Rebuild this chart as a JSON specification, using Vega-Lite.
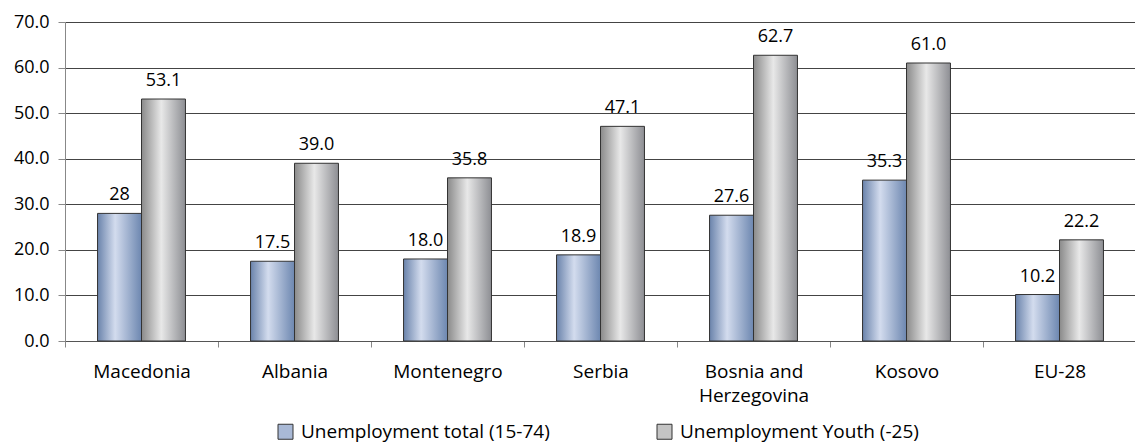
{
  "$schema": "https://vega.github.io/schema/vega-lite/v6.json",
  "width": 1071,
  "height": 319,
  "autosize": {"type": "none"},
  "padding": {"left": 65, "top": 22, "right": 0, "bottom": 105},
  "background": "white",
  "config": {"view": {"stroke": null}, "font": "Open Sans"},
  "data": {
    "values": [
      {"country": "Macedonia", "series": "Unemployment total (15-74)", "value": 28.0, "label": "28"},
      {"country": "Macedonia", "series": "Unemployment Youth (-25)", "value": 53.1, "label": "53.1"},
      {"country": "Albania", "series": "Unemployment total (15-74)", "value": 17.5, "label": "17.5"},
      {"country": "Albania", "series": "Unemployment Youth (-25)", "value": 39.0, "label": "39.0"},
      {"country": "Montenegro", "series": "Unemployment total (15-74)", "value": 18.0, "label": "18.0"},
      {"country": "Montenegro", "series": "Unemployment Youth (-25)", "value": 35.8, "label": "35.8"},
      {"country": "Serbia", "series": "Unemployment total (15-74)", "value": 18.9, "label": "18.9"},
      {"country": "Serbia", "series": "Unemployment Youth (-25)", "value": 47.1, "label": "47.1"},
      {"country": "Bosnia and Herzegovina", "series": "Unemployment total (15-74)", "value": 27.6, "label": "27.6"},
      {"country": "Bosnia and Herzegovina", "series": "Unemployment Youth (-25)", "value": 62.7, "label": "62.7"},
      {"country": "Kosovo", "series": "Unemployment total (15-74)", "value": 35.3, "label": "35.3"},
      {"country": "Kosovo", "series": "Unemployment Youth (-25)", "value": 61.0, "label": "61.0"},
      {"country": "EU-28", "series": "Unemployment total (15-74)", "value": 10.2, "label": "10.2"},
      {"country": "EU-28", "series": "Unemployment Youth (-25)", "value": 22.2, "label": "22.2"}
    ]
  },
  "encoding": {
    "x": {
      "field": "country",
      "type": "nominal",
      "sort": null,
      "scale": {"paddingInner": 0, "paddingOuter": 0},
      "axis": {
        "title": null,
        "labelAngle": 0,
        "labelFont": "Open Sans",
        "labelFontSize": 19,
        "labelColor": "#000",
        "labelPadding": 15,
        "labelLineHeight": 24,
        "labelExpr": "datum.label == 'Bosnia and Herzegovina' ? ['Bosnia and', 'Herzegovina'] : datum.label",
        "tickSize": 6,
        "tickColor": "#888",
        "tickBand": "extent",
        "domainColor": "#555",
        "grid": false
      }
    },
    "xOffset": {
      "field": "series",
      "type": "nominal",
      "sort": null,
      "scale": {"domain": ["Unemployment total (15-74)", "Unemployment Youth (-25)"], "paddingOuter": 0.74, "paddingInner": 0}
    },
    "y": {
      "field": "value",
      "type": "quantitative",
      "scale": {"domain": [0, 70]},
      "axis": {
        "title": null,
        "values": [0, 10, 20, 30, 40, 50, 60, 70],
        "format": ".1f",
        "labelFont": "Open Sans",
        "labelFontSize": 18,
        "labelColor": "#000",
        "labelPadding": 9,
        "tickSize": 7,
        "tickColor": "#888",
        "domainColor": "#888",
        "gridColor": "#444",
        "grid": true
      }
    }
  },
  "layer": [
    {
      "mark": {"type": "bar", "opacity": 0},
      "encoding": {
        "color": {
          "field": "series",
          "type": "nominal",
          "sort": null,
          "scale": {
            "domain": ["Unemployment total (15-74)", "Unemployment Youth (-25)"],
            "range": ["#a9b9d6", "#c4c4c4"]
          },
          "legend": {
            "title": null,
            "orient": "none",
            "legendX": 211,
            "legendY": 400,
            "direction": "horizontal",
            "labelFont": "Open Sans",
            "labelFontSize": 19,
            "labelColor": "#000",
            "labelLimit": 0,
            "symbolType": "square",
            "symbolSize": 225,
            "symbolStrokeColor": "#333",
            "symbolStrokeWidth": 1,
            "symbolOpacity": 1,
            "columnPadding": 105,
            "labelOffset": 6,
            "encode": {
              "symbols": {
                "update": {
                  "opacity": {"value": 1},
                  "stroke": {"value": "#333"},
                  "strokeWidth": {"value": 1},
                  "fill": {"value": {"expr": "datum.value === 'Unemployment total (15-74)' ? {gradient: 'linear', x1: 0, y1: 0, x2: 1, y2: 0, stops: [{offset: 0, color: '#6a83ab'}, {offset: 0.4, color: '#d3dcee'}, {offset: 1, color: '#6d87b0'}]} : {gradient: 'linear', x1: 0, y1: 0, x2: 1, y2: 0, stops: [{offset: 0, color: '#8a8a8a'}, {offset: 0.45, color: '#e8e8e8'}, {offset: 1, color: '#8d8e93'}]}"}}
                }
              }
            }
          }
        }
      }
    },
    {
      "transform": [{"filter": "datum.series === 'Unemployment total (15-74)'"}],
      "mark": {
        "type": "bar",
        "stroke": "#333",
        "strokeWidth": 1,
        "fill": {"gradient": "linear", "x1": 0, "y1": 0, "x2": 1, "y2": 0, "stops": [{"offset": 0, "color": "#6a83ab"}, {"offset": 0.4, "color": "#d3dcee"}, {"offset": 1, "color": "#6d87b0"}]}
      }
    },
    {
      "transform": [{"filter": "datum.series === 'Unemployment Youth (-25)'"}],
      "mark": {
        "type": "bar",
        "stroke": "#333",
        "strokeWidth": 1,
        "fill": {"gradient": "linear", "x1": 0, "y1": 0, "x2": 1, "y2": 0, "stops": [{"offset": 0, "color": "#8a8a8a"}, {"offset": 0.45, "color": "#e8e8e8"}, {"offset": 1, "color": "#8d8e93"}]}
      }
    },
    {
      "mark": {"type": "text", "baseline": "alphabetic", "dy": -13, "fontSize": 18, "font": "Open Sans", "color": "#000"},
      "encoding": {"text": {"field": "label"}}
    }
  ]
}
